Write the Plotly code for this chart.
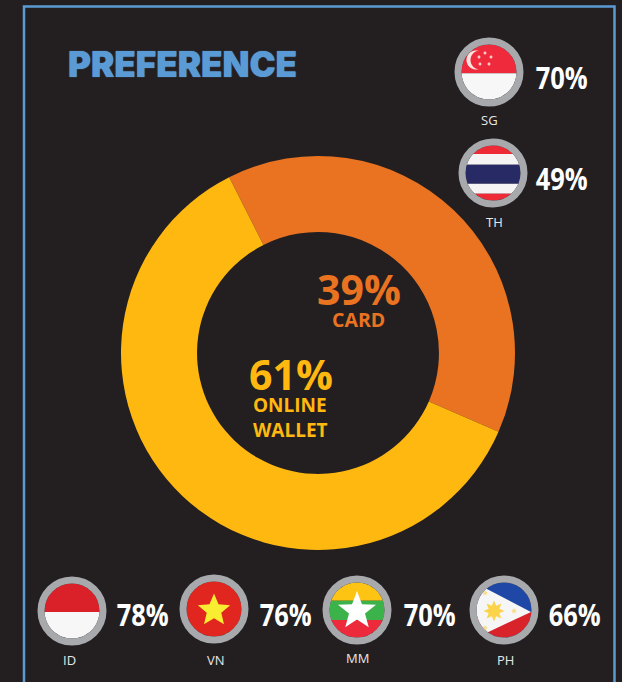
import math
import plotly.graph_objects as go

# ---- data
segments = ["CARD", "ONLINE<br>WALLET"]
shares = [39, 61]
countries = ["SG", "TH", "ID", "VN", "MM", "PH"]
country_values = [70, 49, 78, 76, 70, 66]
title = "PREFERENCE"

W, H = 622, 682
BG = "#231f20"
BLUE = "#5b9bd5"
ORANGE = "#e97320"
YELLOW = "#ffb810"
RING = "#a7a9ac"
R_IN = 27.5
R_RING = 31

# layout of country badges: centre x, y, label x, label y, pct x (centre), pct y
badge_pos = {
    "SG": (489, 72, 489, 120, 561.5, 76.5),
    "TH": (493, 173, 494, 222, 561.5, 177.5),
    "ID": (72, 611, 69, 660, 142.5, 613.5),
    "VN": (214, 609, 216, 660, 285.5, 613.5),
    "MM": (357, 610, 357, 658, 429.5, 613.5),
    "PH": (504, 610, 505, 660, 574.5, 613.5),
}


def circle_pts(cx, cy, r, n=96):
    return [(cx + r * math.cos(2 * math.pi * i / n), cy + r * math.sin(2 * math.pi * i / n)) for i in range(n)]


def clip(poly, a, b, c):
    """keep a*x+b*y+c>=0"""
    out = []
    for i, p in enumerate(poly):
        q = poly[(i + 1) % len(poly)]
        fp = a * p[0] + b * p[1] + c
        fq = a * q[0] + b * q[1] + c
        if fp >= 0:
            out.append(p)
        if (fp >= 0) != (fq >= 0):
            t = fp / (fp - fq)
            out.append((p[0] + t * (q[0] - p[0]), p[1] + t * (q[1] - p[1])))
    return out


def to_path(poly):
    return "M" + "L".join(f"{x:.2f},{y:.2f}" for x, y in poly) + "Z"


shapes = []


def add(poly, color):
    shapes.append(dict(type="path", path=to_path(poly), fillcolor=color, line=dict(width=0),
                       xref="x", yref="y", layer="above"))


def band(cx, cy, y1, y2, color):
    p = circle_pts(cx, cy, R_IN)
    p = clip(p, 0, 1, -(cy + y1))
    p = clip(p, 0, -1, cy + y2)
    add(p, color)


def star(cx, cy, r, color, rot=-90, inner=0.42, points=5):
    pts = []
    step = 180 / points
    for i in range(2 * points):
        rr = r if i % 2 == 0 else r * inner
        a = math.radians(rot + step * i)
        pts.append((cx + rr * math.cos(a), cy + rr * math.sin(a)))
    add(pts, color)


def ring(cx, cy):
    shapes.append(dict(type="circle", x0=cx - R_RING, x1=cx + R_RING, y0=cy - R_RING, y1=cy + R_RING,
                       line=dict(color=RING, width=7), fillcolor="rgba(0,0,0,0)", xref="x", yref="y", layer="above"))


# SG
cx, cy = badge_pos["SG"][:2]
band(cx, cy, -30, 1.3, "#ee2a3c")
band(cx, cy, 1.3, 30, "#f7f7f7")
add(circle_pts(cx - 13, cy - 12, 9.5), "#f7e6e0")
add(circle_pts(cx - 9, cy - 12, 9.5), "#ee2a3c")
for dx, dy in [(-4, -19), (-10, -15), (2, -15), (-9, -8), (0, -8)]:
    add(circle_pts(cx + dx, cy + dy, 1.5, 16), "#f8c9c6")
# TH
cx, cy = badge_pos["TH"][:2]
band(cx, cy, -30, -19, "#ee2a36")
band(cx, cy, -19, -8.3, "#f5f3f3")
band(cx, cy, -8.3, 10.7, "#282a66")
band(cx, cy, 10.7, 20.7, "#f5f3f3")
band(cx, cy, 20.7, 30, "#ee2a36")
# ID
cx, cy = badge_pos["ID"][:2]
band(cx, cy, -30, 1, "#da2129")
band(cx, cy, 1, 30, "#f7f7f7")
# VN
cx, cy = badge_pos["VN"][:2]
add(circle_pts(cx, cy, R_IN), "#e1251f")
star(cx, cy + 1.5, 17, "#f9ed32", inner=0.45)
# MM
cx, cy = badge_pos["MM"][:2]
band(cx, cy, -30, -9.3, "#fdc413")
band(cx, cy, -9.3, 10, "#3cb34a")
band(cx, cy, 10, 30, "#ed2a3c")
star(cx, cy + 1, 20, "#ffffff", inner=0.42)
# PH
cx, cy = badge_pos["PH"][:2]
add(circle_pts(cx, cy, R_IN), "#1f47a6")
add(clip(circle_pts(cx, cy, R_IN), 0, 1, -(cy + 2)), "#d8232a")
tri = circle_pts(cx, cy, R_IN)
tri = clip(tri, -0.52, 1, 0.52 * (cx + 27) - (cy + 2))   # below upper edge
tri = clip(tri, -0.47, -1, 0.47 * (cx + 27) + (cy + 2))  # above lower edge
add(tri, "#f6f6f6")
star(cx - 10, cy + 1, 10.5, "#fbd44b", inner=0.55, points=8)
for dx, dy in [(-19, -17), (10, 1), (-19, 18)]:
    star(cx + dx, cy + dy, 3, "#f8de8a", inner=0.5)

for c in countries:
    ring(*badge_pos[c][:2])

# frame
shapes.append(dict(type="path", path=f"M24,{H + 5}L24,6.5L614.5,6.5L614.5,{H + 5}",
                   line=dict(color=BLUE, width=2.5), xref="x", yref="y", layer="above"))


def ann(x, y, text, size, color, family="Open Sans", weight=700, align="center", xanchor="center", shadow=None):
    f = dict(size=size, color=color, family=family, weight=weight)
    if shadow:
        f["shadow"] = shadow
    return dict(x=x, y=y, xref="x", yref="y", text=text, showarrow=False, align=align,
                xanchor=xanchor, yanchor="middle", font=f)


annotations = [ann(182, 64, title, 35, BLUE, "Inter", 900, shadow=f"0 0 1px {BLUE}")]
annotations += [
    ann(359, 289, f"{shares[0]}%", 41, ORANGE),
    ann(358.5, 319.5, segments[0], 19.5, ORANGE),
    ann(290.5, 374, f"{shares[1]}%", 41, YELLOW),
    ann(251, 417, segments[1], 19, YELLOW, align="left", xanchor="left"),
]
for c, v in zip(countries, country_values):
    bx, by, lx, ly, px, py = badge_pos[c]
    annotations.append(ann(lx, ly, c, 13, "#e6e7e8", "Open Sans", 400))
    annotations.append(ann(px, py, f"{v}%", 31, "#ffffff", "Open Sans", 700))

fig = go.Figure()
fig.add_trace(go.Pie(
    labels=[s.replace("<br>", " ") for s in segments], values=shares, sort=False, direction="clockwise",
    rotation=-26.8, hole=0.614, textinfo="none", showlegend=False,
    marker=dict(colors=[ORANGE, YELLOW], line=dict(width=0)),
    domain=dict(x=[121 / W, 515 / W], y=[(H - 550) / H, (H - 156) / H]),
))
# invisible anchor trace makes the pixel-like axes exist
fig.add_trace(go.Scatter(x=[0, W], y=[0, H], mode="markers", marker=dict(opacity=0), hoverinfo="skip", showlegend=False))
fig.update_layout(
    width=W, height=H, margin=dict(l=0, r=0, t=0, b=0),
    paper_bgcolor=BG, plot_bgcolor="rgba(0,0,0,0)",
    xaxis=dict(range=[0, W], visible=False, fixedrange=True),
    yaxis=dict(range=[H, 0], visible=False, fixedrange=True),
    shapes=shapes, annotations=annotations,
)
# page reset; the white percentage labels are condensed like the reference's typeface
post = """
document.body.style.margin='0';document.body.style.background='#231f20';
document.documentElement.style.overflow='hidden';
document.querySelectorAll('.annotation-text').forEach(function(t){
  if(/^\\d+%$/.test(t.textContent) && t.style.fill.indexOf('255, 255, 255')>=0){
    t.setAttribute('textLength','52');t.setAttribute('lengthAdjust','spacingAndGlyphs');
  }
});
"""
fig.write_html("out.html", config=dict(displayModeBar=False), post_script=post)
